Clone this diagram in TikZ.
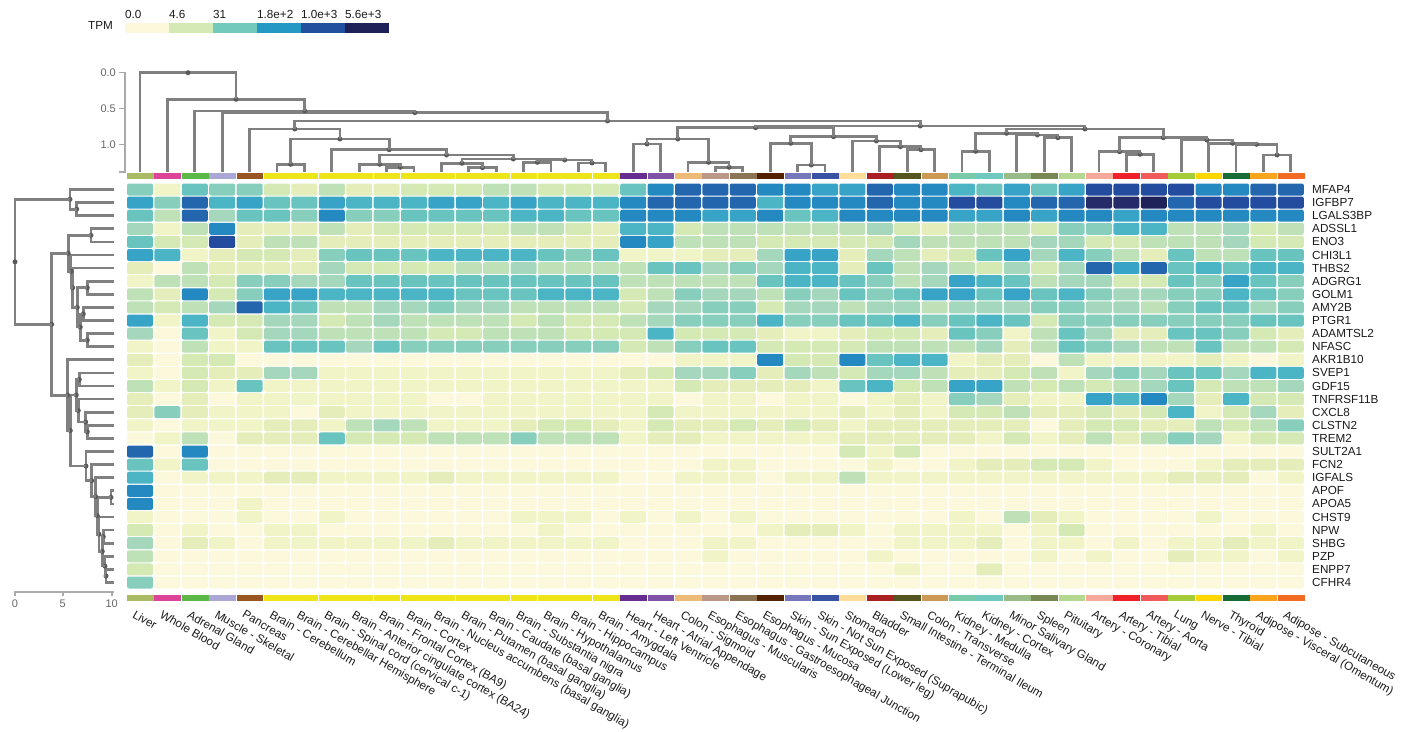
\documentclass[tikz,border=0pt]{standalone}
\usepackage{fontspec}
\setmainfont{Liberation Sans}
\usetikzlibrary{calc}

% expression levels (TPM scale)
\definecolor{h0}{HTML}{FBF8DC}
\definecolor{h1}{HTML}{F1F4C6}
\definecolor{h2}{HTML}{E5EEBA}
\definecolor{h3}{HTML}{D4E9B4}
\definecolor{h4}{HTML}{BFE1B7}
\definecolor{h5}{HTML}{A4D7BB}
\definecolor{h6}{HTML}{88CEBD}
\definecolor{h7}{HTML}{69C4C0}
\definecolor{h8}{HTML}{4CB5C5}
\definecolor{h9}{HTML}{36A3C7}
\definecolor{ha}{HTML}{2488C1}
\definecolor{hb}{HTML}{2366AE}
\definecolor{hc}{HTML}{234C9E}
\definecolor{hd}{HTML}{252B69}
\definecolor{he}{HTML}{1F2259}
\definecolor{dendro}{HTML}{808080}
\definecolor{knotgray}{HTML}{5A5A5A}
\definecolor{axisgray}{HTML}{AAAAAA}
\definecolor{axistext}{HTML}{666666}
\definecolor{txt}{HTML}{1A1A1A}

\newcommand{\lblfont}{\fontsize{11.7bp}{14bp}\selectfont}
\newcommand{\axfont}{\fontsize{11bp}{13bp}\selectfont}

% join two tissue branches: name, left, right, height of bar
\newcommand{\tmerge}[4]{%
  \coordinate (#1mid) at ($(#2)!0.5!(#3)$);
  \coordinate (#1) at (#1mid |- 0,#4);
  \draw[branch] (#2) |- (#1) -| (#3);
  \fill[knot] (#1) circle (2.5bp);
}
% join two gene branches: name, upper, lower, x of bar
\newcommand{\gmerge}[4]{%
  \coordinate (#1mid) at ($(#2)!0.5!(#3)$);
  \coordinate (#1) at (#1mid -| #4,0);
  \draw[branch] (#2) -| (#1) |- (#3);
  \fill[knot] (#1) circle (2.5bp);
}

\begin{document}
\begin{tikzpicture}[x=1bp,y=-1bp,
  branch/.style={draw=dendro,line width=2.7bp},
  knot/.style={fill=knotgray},
  cell/.style={rounded corners=2bp},
  gene/.style={anchor=west,inner sep=0pt,font=\lblfont,text=txt},
  tissue/.style={anchor=north west,inner sep=0pt,rotate=-30,font=\lblfont,text=txt},
  keylbl/.style={anchor=west,inner sep=0pt,font=\lblfont,text=txt},
  axisline/.style={draw=axisgray,line width=1.6bp},
  axislbl/.style={inner sep=0pt,font=\axfont,text=axistext}]

\useasboundingbox (0,0) rectangle (1416,731);

% Legend
\node[keylbl] (tpm) at (88,25) {TPM};
\foreach \col [count=\k from 0] in {FBF8DC,D4E9B4,74C9BD,2698C4,23509E,1E2157}{
  \definecolor{kc}{HTML}{\col}
  \fill[kc] ({125+44*\k},23.3) rectangle ++(44,10);
}
\foreach \t [count=\k from 0] in {0.0,4.6,31,1.8e+2,1.0e+3,5.6e+3}
  \node[keylbl] (key\k) at ({125+44*\k},14.5) {\t};

% Heatmap cells
\foreach \vals [count=\r from 0] in {
 {6,1,7,6,6,3,2,4,2,2,3,3,3,4,4,3,3,3,7,a,b,b,b,a,a,9,9,b,a,a,8,7,9,7,9,c,c,c,c,a,a,b,b},
 {9,6,b,8,9,7,7,9,8,8,8,9,9,8,9,8,8,8,a,b,b,b,b,8,a,a,a,b,a,a,c,c,a,b,b,d,d,e,b,c,c,c,c},
 {7,4,b,5,7,7,6,a,6,6,7,7,7,7,8,8,7,7,a,a,a,9,9,a,7,8,a,a,a,a,9,9,a,9,a,a,9,a,a,a,a,a,a},
 {5,1,4,a,2,2,2,4,2,3,3,3,3,3,4,4,3,2,8,8,3,4,4,4,4,4,4,5,3,2,4,4,4,3,6,6,8,8,4,4,5,3,4},
 {7,3,3,c,2,4,4,2,2,2,2,2,2,2,2,2,2,2,a,9,4,4,4,3,3,3,3,3,5,4,4,4,4,5,5,3,3,4,4,4,5,3,3},
 {9,8,1,2,3,3,2,6,7,7,7,8,8,8,8,7,6,7,1,1,1,2,2,5,9,9,2,5,4,2,3,7,9,5,8,6,4,2,7,4,4,7,7},
 {2,0,4,2,2,2,2,5,3,3,3,3,4,4,5,4,4,4,4,7,7,5,6,5,8,8,2,7,4,5,4,3,5,3,5,b,9,b,7,8,7,8,8},
 {1,4,4,3,6,6,5,5,7,7,7,7,7,7,7,7,7,7,4,4,4,4,4,7,8,8,7,6,4,5,9,8,7,4,5,5,3,3,7,6,9,7,6},
 {4,2,a,3,6,9,9,8,8,8,8,8,7,7,7,8,8,8,3,4,6,5,5,4,6,5,7,6,7,9,9,7,9,7,8,6,5,5,6,6,8,7,6},
 {4,3,4,5,b,8,7,4,4,5,5,6,5,5,4,4,4,4,3,5,5,6,6,3,5,5,4,5,5,4,5,5,5,6,6,5,5,4,6,7,7,5,6},
 {9,1,8,3,3,5,5,3,4,5,4,4,4,4,3,4,3,3,4,5,6,6,6,8,6,6,7,7,8,6,7,8,7,3,6,6,6,6,6,6,6,7,7},
 {5,0,7,1,3,5,5,4,4,4,4,3,3,4,4,4,3,3,3,8,3,3,3,2,1,1,2,3,3,2,7,6,1,4,7,5,2,2,7,7,6,3,2},
 {1,0,4,1,1,7,7,7,5,7,6,6,6,6,6,6,6,6,3,4,6,7,7,3,3,3,3,4,4,4,4,5,2,4,7,6,5,4,4,7,4,4,3},
 {2,0,3,3,0,0,0,0,0,0,0,0,0,0,0,0,0,0,0,0,1,1,1,a,3,3,a,7,8,8,1,2,2,0,4,1,1,1,1,2,1,0,1},
 {1,0,3,2,2,5,5,1,1,1,1,1,1,1,1,1,1,1,2,3,5,5,6,2,5,4,3,5,5,4,2,2,3,4,1,5,6,5,7,7,5,8,8},
 {4,1,3,1,7,1,1,1,1,1,1,1,1,1,1,1,1,1,1,1,3,2,2,2,2,1,7,8,3,4,9,9,4,3,4,3,4,5,7,3,4,4,5},
 {2,0,2,0,1,1,1,1,1,1,1,0,0,1,1,1,1,1,1,1,0,1,1,0,1,1,0,1,2,1,6,5,2,1,1,9,8,a,5,2,8,3,3},
 {2,6,2,1,1,1,0,2,1,1,1,1,1,1,1,1,1,1,1,3,1,1,1,1,1,1,2,1,2,1,3,3,4,2,2,3,2,3,8,1,3,5,2},
 {1,0,1,1,1,2,2,1,4,5,4,1,1,1,2,3,3,2,1,3,2,2,3,2,3,2,1,2,2,2,2,2,2,0,2,3,3,2,2,4,3,4,6},
 {0,1,4,0,2,2,2,7,3,3,3,4,4,4,6,4,4,4,1,2,2,1,1,1,1,1,2,2,2,2,2,1,3,1,2,4,2,4,6,5,1,3,3},
 {b,0,a,0,0,0,0,0,0,0,0,0,0,0,0,0,0,0,0,0,0,0,0,0,0,0,3,1,3,0,0,0,0,0,0,0,0,0,0,0,0,0,0},
 {7,1,7,0,0,0,0,0,0,0,0,0,0,0,0,0,0,0,0,0,0,1,1,0,0,0,0,1,0,0,1,2,2,3,3,1,0,0,0,1,2,2,2},
 {8,0,1,1,1,2,2,1,1,1,1,2,1,1,1,1,1,1,0,0,1,1,1,0,1,1,4,1,1,1,1,1,1,1,1,1,1,1,2,2,2,0,1},
 {a,0,0,0,0,0,0,0,0,0,0,0,0,0,0,0,0,0,0,0,0,0,0,0,0,0,0,0,0,0,0,0,0,0,0,0,0,0,0,0,0,0,0},
 {a,0,0,0,1,0,0,0,0,0,0,0,0,0,0,0,0,0,0,0,0,0,0,0,0,0,0,0,0,0,0,0,0,0,0,0,0,0,0,0,0,0,0},
 {1,0,0,0,1,0,0,1,0,0,0,0,0,0,1,1,1,0,1,0,1,0,1,0,0,0,0,0,0,0,1,0,4,2,1,0,0,0,0,1,0,0,0},
 {3,0,1,0,0,1,1,0,0,0,0,0,0,0,0,1,0,0,0,0,0,0,0,1,2,2,1,0,1,1,1,1,0,1,3,0,0,0,0,0,0,1,0},
 {5,0,2,1,0,1,1,1,1,1,1,2,1,1,1,1,1,1,0,0,0,1,1,0,0,0,0,0,1,1,1,2,0,1,1,0,1,0,1,1,2,1,1},
 {4,0,0,0,0,0,0,0,0,0,0,0,0,0,0,0,0,0,0,0,0,1,0,0,0,0,0,1,0,0,0,0,0,1,0,1,0,0,2,1,1,0,1},
 {3,0,0,0,0,0,0,0,0,0,0,0,0,0,0,0,0,0,0,0,0,0,0,0,0,0,0,0,1,0,0,2,0,0,0,0,0,0,0,0,0,0,0},
 {6,0,0,0,0,0,0,0,0,0,0,0,0,0,0,0,0,0,0,0,0,0,0,0,0,0,0,0,0,0,0,0,0,0,0,0,0,0,0,0,0,0,0}}{
  \foreach \v [count=\c from 0] in \vals
    \fill[h\v,cell] ({127+27.4*\c},{183.5+13.1*\r}) rectangle ++(26,12);
}

% Tissue colour strips
\foreach \col [count=\c from 0] in {AABB66,DD4499,5CB947,AAA6D6,995522,
  EDE517,EDE517,EDE517,EDE517,EDE517,EDE517,EDE517,EDE517,EDE517,EDE517,EDE517,EDE517,EDE517,
  662D91,7F52A5,EEBB77,BB9988,8B7355,552200,7777BB,3953A4,FFDD99,AA1F22,555522,CC9955,
  78CAA8,70C9BF,99BB88,778855,B4D88F,F5A99A,EE2228,F05A5A,A3CC38,FFD700,176B37,F8A51D,F26B22}{
  \definecolor{tc}{HTML}{\col}
  \fill[tc] ({127+27.4*\c},172.5) rectangle ++(26.7,6.5);
  \fill[tc] ({127+27.4*\c},594.5) rectangle ++(26.7,6.5);
}

% Gene labels
\foreach \g [count=\r from 0] in {MFAP4,IGFBP7,LGALS3BP,ADSSL1,ENO3,CHI3L1,THBS2,ADGRG1,GOLM1,
  AMY2B,PTGR1,ADAMTSL2,NFASC,AKR1B10,SVEP1,GDF15,TNFRSF11B,CXCL8,CLSTN2,TREM2,SULT2A1,FCN2,
  IGFALS,APOF,APOA5,CHST9,NPW,SHBG,PZP,ENPP7,CFHR4}
  \node[gene] (g\r) at (1312,{189.5+13.1*\r}) {\g};

% Tissue labels
\foreach \t [count=\c from 0] in {Liver,Whole Blood,Adrenal Gland,Muscle - Skeletal,Pancreas,
  Brain - Cerebellum,Brain - Cerebellar Hemisphere,Brain - Spinal cord (cervical c-1),
  Brain - Anterior cingulate cortex (BA24),Brain - Frontal Cortex (BA9),Brain - Cortex,
  Brain - Nucleus accumbens (basal ganglia),Brain - Putamen (basal ganglia),
  Brain - Caudate (basal ganglia),Brain - Substantia nigra,Brain - Hypothalamus,
  Brain - Hippocampus,Brain - Amygdala,Heart - Left Ventricle,Heart - Atrial Appendage,
  Colon - Sigmoid,Esophagus - Muscularis,Esophagus - Gastroesophageal Junction,
  Esophagus - Mucosa,Skin - Sun Exposed (Lower leg),Skin - Not Sun Exposed (Suprapubic),
  Stomach,Bladder,Small Intestine - Terminal Ileum,Colon - Transverse,Kidney - Medulla,
  Kidney - Cortex,Minor Salivary Gland,Spleen,Pituitary,Artery - Coronary,Artery - Tibial,
  Artery - Aorta,Lung,Nerve - Tibial,Thyroid,Adipose - Visceral (Omentum),
  Adipose - Subcutaneous}
  \node[tissue] (t\c) at ({136+27.4*\c},609.5) {\t};

% Tissue dendrogram
\foreach \c in {0,...,42} \coordinate (tl\c) at ({140+27.4*\c},172);
\tmerge{tG}{tl5}{tl6}{164.3}
\tmerge{tJ}{tl9}{tl10}{167.3}
\tmerge{tI}{tl8}{tJ}{164.3}
\tmerge{tM}{tl12}{tl13}{167.7}
\tmerge{tL}{tl11}{tM}{163.3}
\tmerge{tP}{tl14}{tl15}{162.3}
\tmerge{tQ}{tl16}{tl17}{163}
\tmerge{tR}{tP}{tQ}{160}
\tmerge{tK}{tL}{tR}{159}
\tmerge{tH}{tI}{tK}{155}
\tmerge{tF}{tl7}{tH}{149.7}
\tmerge{tE}{tG}{tF}{139}
\tmerge{tD}{tl4}{tE}{129}
\tmerge{tX}{tl18}{tl19}{144}
\tmerge{tZ}{tl21}{tl22}{167.3}
\tmerge{tY}{tl20}{tZ}{162.3}
\tmerge{tU}{tX}{tY}{139}
\tmerge{tVa}{tl24}{tl25}{165}
\tmerge{tVb}{tl23}{tVa}{143.3}
\tmerge{tVc}{tl28}{tl29}{149.7}
\tmerge{tVd}{tl27}{tVc}{146.7}
\tmerge{tVe}{tl26}{tVd}{141}
\tmerge{tV}{tVb}{tVe}{136.7}
\tmerge{tT}{tU}{tV}{127.7}
\tmerge{tWa}{tl30}{tl31}{151.3}
\tmerge{tWb}{tl33}{tl34}{137.7}
\tmerge{tWc}{tl32}{tWb}{135}
\tmerge{tWd}{tWa}{tWc}{133.3}
\tmerge{tWe}{tl36}{tl37}{154.3}
\tmerge{tWf}{tl35}{tWe}{151.7}
\tmerge{tWg}{tl41}{tl42}{155}
\tmerge{tWh}{tl40}{tWg}{144.3}
\tmerge{tWi}{tl39}{tWh}{143.3}
\tmerge{tWj}{tl38}{tWi}{140}
\tmerge{tWk}{tWf}{tWj}{137.7}
\tmerge{tW}{tWd}{tWk}{129}
\tmerge{tS}{tT}{tW}{126}
\tmerge{tC}{tD}{tS}{121}
\tmerge{tB}{tl3}{tC}{112.7}
\tmerge{tA}{tl2}{tB}{111}
\tmerge{tN}{tl1}{tA}{99.3}
\tmerge{troot}{tl0}{tN}{72.7}

% Gene dendrogram
\foreach \r in {0,...,30} \coordinate (ll\r) at (114,{189.5+13.1*\r});
\gmerge{lB}{ll1}{ll2}{76.7}
\gmerge{lA}{ll0}{lB}{70}
\gmerge{lE}{ll3}{ll4}{91}
\gmerge{lI}{ll7}{ll8}{87.3}
\gmerge{lK}{ll9}{ll10}{83.3}
\gmerge{lL}{ll11}{ll12}{87.3}
\gmerge{lJ}{lK}{lL}{80.3}
\gmerge{lH}{lI}{lJ}{77.3}
\gmerge{lG}{ll6}{lH}{72.7}
\gmerge{lF}{ll5}{lG}{71}
\gmerge{lD}{lE}{lF}{68.3}
\gmerge{lQ}{ll14}{ll15}{79.3}
\gmerge{lS}{ll18}{ll19}{87.3}
\gmerge{lT}{ll17}{lS}{85.7}
\gmerge{lR}{ll16}{lT}{78.3}
\gmerge{lV}{lQ}{lR}{76.3}
\gmerge{lZ}{ll23}{ll24}{111}
\gmerge{lAC}{ll26}{ll27}{103.3}
\gmerge{lAE}{ll29}{ll30}{106}
\gmerge{lAD}{ll28}{lAE}{105}
\gmerge{lAB}{lAC}{lAD}{102.3}
\gmerge{lAA}{ll25}{lAB}{99}
\gmerge{lY}{lZ}{lAA}{97.3}
\gmerge{lX}{ll22}{lY}{95.7}
\gmerge{lW}{ll21}{lX}{91.7}
\gmerge{lU}{ll20}{lW}{86}
\gmerge{lN}{lV}{lU}{70.3}
\gmerge{lM}{ll13}{lN}{67.7}
\gmerge{lC}{lD}{lM}{51.7}
\gmerge{lroot}{lA}{lC}{15}

% Height axes
\draw[axisline] (119,72.7) -- (125,72.7) -- (125,172) -- (119,172);
\draw[axisline] (119,108.7) -- (125,108.7);
\draw[axisline] (119,144.3) -- (125,144.3);
\node[axislbl,anchor=east] (y0) at (116,72.7) {0.0};
\node[axislbl,anchor=east] (y1) at (116,108.7) {0.5};
\node[axislbl,anchor=east] (y2) at (116,144.3) {1.0};
\draw[axisline] (15,596) -- (15,591.7) -- (114,591.7);
\draw[axisline] (62.7,591.7) -- (62.7,596);
\draw[axisline] (111.7,591.7) -- (111.7,596);
\node[axislbl,anchor=north] (x0) at (15,600) {0};
\node[axislbl,anchor=north] (x1) at (62.7,600) {5};
\node[axislbl,anchor=north] (x2) at (111.7,600) {10};

\end{tikzpicture}
\end{document}
